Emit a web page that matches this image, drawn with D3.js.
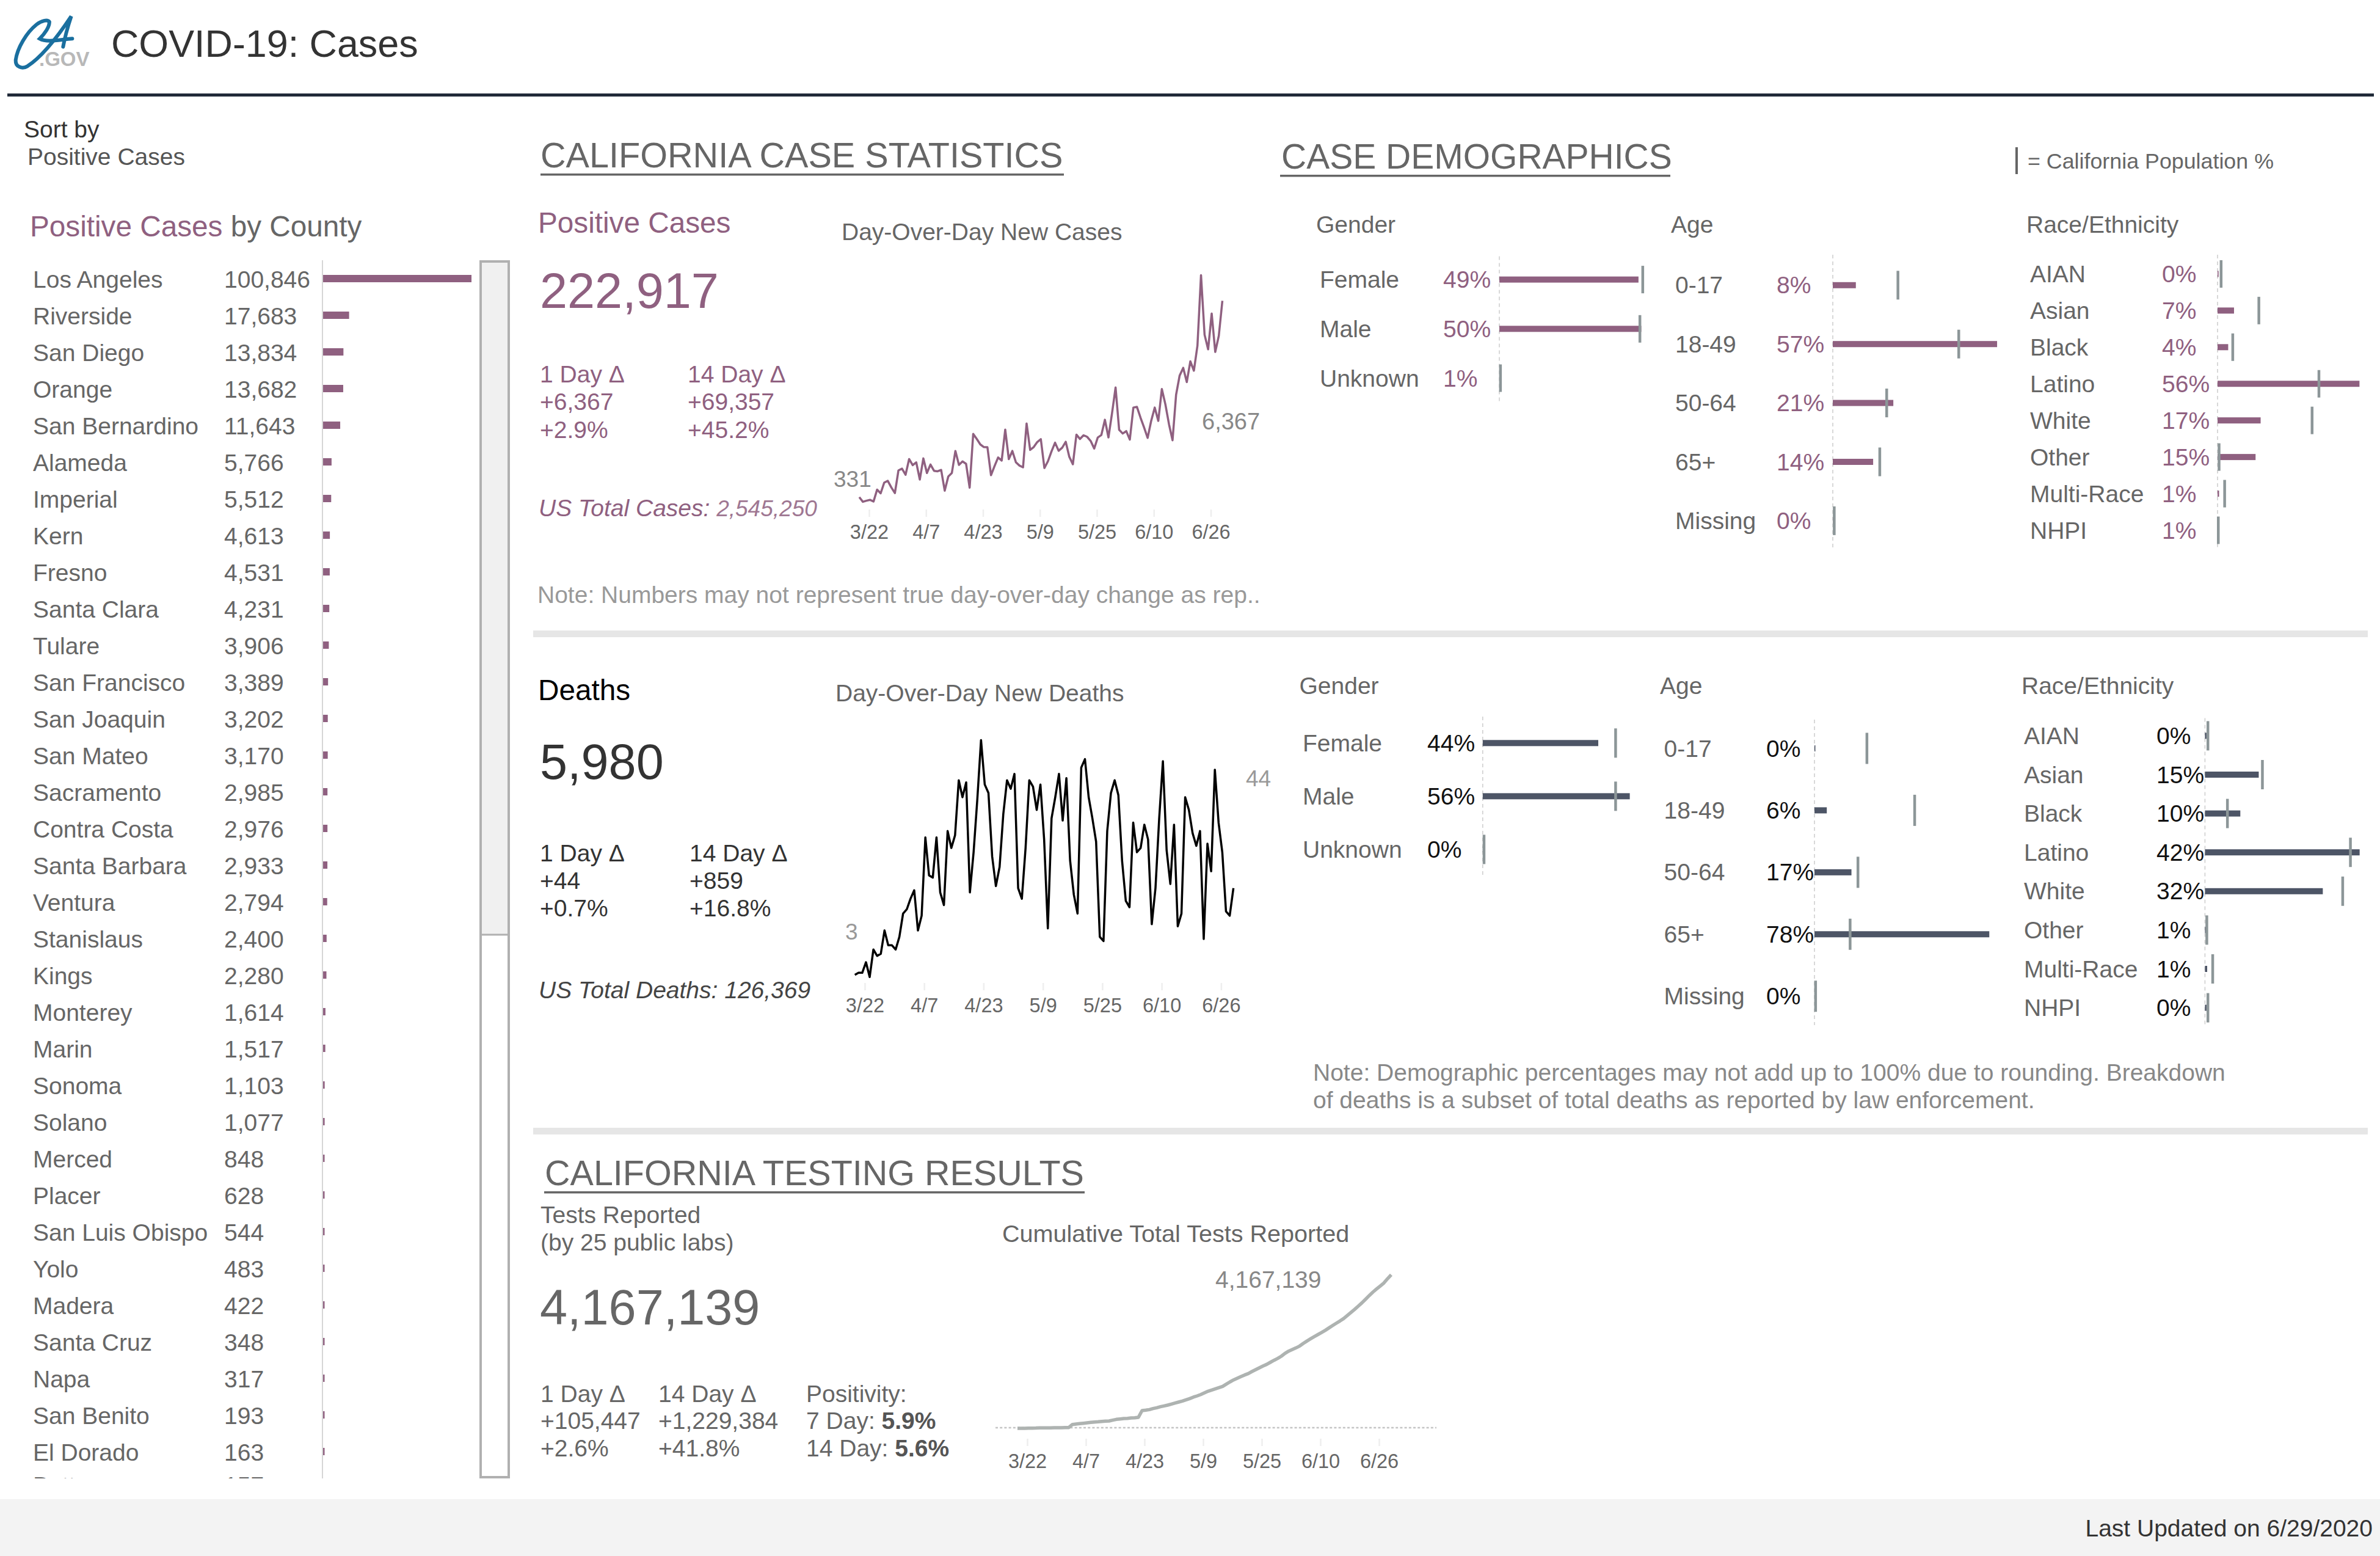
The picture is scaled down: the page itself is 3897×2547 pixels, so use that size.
<!DOCTYPE html>
<html>
<head>
<meta charset="utf-8">
<title>COVID-19: Cases</title>
<script src="https://cdn.jsdelivr.net/npm/d3@7"></script>
<style>
  html, body { margin: 0; padding: 0; background: #fff; }
  svg { display: block; font-family: "Liberation Sans", Arial, sans-serif; }
</style>
</head>
<body>
<svg id="chart" width="3897" height="2547"></svg>
<script>
// data
const countyNames = ["Los Angeles", "Riverside", "San Diego", "Orange", "San Bernardino", "Alameda", "Imperial", "Kern", "Fresno", "Santa Clara", "Tulare", "San Francisco", "San Joaquin", "San Mateo", "Sacramento", "Contra Costa", "Santa Barbara", "Ventura", "Stanislaus", "Kings", "Monterey", "Marin", "Sonoma", "Solano", "Merced", "Placer", "San Luis Obispo", "Yolo", "Madera", "Santa Cruz", "Napa", "San Benito", "El Dorado", "Butte"];
const countyCases = [100846, 17683, 13834, 13682, 11643, 5766, 5512, 4613, 4531, 4231, 3906, 3389, 3202, 3170, 2985, 2976, 2933, 2794, 2400, 2280, 1614, 1517, 1103, 1077, 848, 628, 544, 483, 422, 348, 317, 193, 163, 157];

const tickDays = ["2020-03-22", "2020-04-07", "2020-04-23", "2020-05-09", "2020-05-25", "2020-06-10", "2020-06-26"];

const newCases = [331, 188, 221, 248, 195, 563, 449, 778, 832, 630, 456, 1154, 1207, 1019, 1502, 1315, 1402, 872, 1522, 1073, 1335, 1140, 1127, 1167, 530, 966, 1073, 1751, 1321, 1429, 1355, 624, 2274, 2119, 1952, 1871, 1865, 1006, 1288, 1549, 1455, 2408, 1502, 1751, 1402, 1301, 1248, 2596, 1784, 1871, 2026, 2113, 1227, 1435, 1737, 2005, 1757, 1851, 2032, 1569, 1341, 2254, 2119, 2233, 2186, 2059, 1824, 2166, 2240, 2710, 2166, 2911, 3702, 2401, 2287, 2361, 2099, 3085, 3105, 2777, 2475, 2153, 2676, 3085, 2676, 3655, 3179, 2575, 2079, 3481, 4071, 4306, 3870, 4507, 4219, 4990, 7156, 5325, 4876, 5976, 4796, 5292, 6367];

const newDeaths = [3, 4, 4, 9, 2, 15, 12, 13, 24, 17, 17, 15, 21, 32, 34, 39, 43, 24, 31, 68, 50, 49, 68, 42, 36, 71, 63, 69, 95, 87, 94, 42, 61, 86, 114, 93, 89, 59, 45, 54, 79, 95, 91, 98, 44, 39, 63, 95, 92, 81, 93, 67, 25, 77, 87, 98, 76, 96, 57, 41, 32, 101, 105, 87, 77, 66, 21, 19, 71, 89, 95, 88, 57, 38, 35, 75, 61, 63, 74, 67, 27, 44, 77, 104, 62, 46, 74, 26, 32, 87, 81, 70, 64, 71, 20, 65, 52, 100, 75, 61, 33, 31, 44];

const totalTests = [1000, 1500, 2000, 5500, 6000, 6500, 11000, 11500, 12000, 12500, 16500, 17000, 17500, 22000, 22500, 105000, 116000, 127000, 138000, 149000, 160000, 171000, 177000, 188000, 193000, 199000, 221000, 243000, 254000, 265000, 271000, 282000, 287000, 298000, 481000, 492000, 508000, 536000, 558000, 586000, 608000, 630000, 658000, 685000, 713000, 741000, 774000, 807000, 846000, 879000, 917000, 962000, 1006000, 1039000, 1072000, 1105000, 1139000, 1199000, 1260000, 1315000, 1360000, 1404000, 1448000, 1487000, 1542000, 1592000, 1642000, 1691000, 1735000, 1791000, 1846000, 1896000, 1957000, 2034000, 2095000, 2139000, 2183000, 2233000, 2305000, 2370000, 2430000, 2490000, 2545000, 2600000, 2660000, 2725000, 2790000, 2852000, 2913000, 2979000, 3062000, 3145000, 3228000, 3316000, 3405000, 3504000, 3604000, 3698000, 3781000, 3863000, 3946000, 4061692, 4167139];

const genderLabels = ["Female", "Male", "Unknown"];
const ageLabels = ["0-17", "18-49", "50-64", "65+", "Missing"];
const raceLabels = ["AIAN", "Asian", "Black", "Latino", "White", "Other", "Multi-Race", "NHPI"];

const caseGender = [49, 50, 0.6];
const caseGenderPop = [50.5, 49.5, 0.4];
const caseAge = [8, 57, 21, 14, 0.2];
const caseAgePop = [22.6, 43.7, 18.7, 16.3, 0.5];
const caseRace = [0.4, 6.5, 4.2, 56, 17, 15, 0.6, 0.5];
const caseRacePop = [1.4, 16.3, 6, 40, 37.3, 0.6, 2.8, 0.3];

const deathGender = [44, 56, 0.2];
const deathGenderPop = [50.6, 50.6, 0.5];
const deathAge = [0.4, 5.5, 16.5, 78, 0.2];
const deathAgePop = [23.4, 44.7, 19.4, 15.9, 0.5];
const deathRace = [0.4, 14.6, 9.6, 42, 32, 0.5, 0.6, 0.4];
const deathRacePop = [0.8, 15.6, 6.1, 39.5, 37.4, 0.5, 2.1, 0.8];

const purple = "#8f6080";
const slate = "#4d5566";
const popGrey = "#8c9698";
const textGrey = "#666";
const bodySize = 39;

const svg = d3.select("#chart");
const days = d3.utcDay.range(Date.UTC(2020, 2, 19), Date.UTC(2020, 5, 30));

function label(x, y, str, size, fill, style) {
  return svg
    .append("text")
    .attr("x", x)
    .attr("y", y)
    .attr("font-size", size)
    .attr("fill", fill)
    .attr("font-style", style || null)
    .text(str);
}

function rect(x, y, w, h, fill) {
  return svg.append("rect").attr("x", x).attr("y", y).attr("width", w).attr("height", h).attr("fill", fill);
}

function sectionHeader(x, y, str, size, lineX0, lineX1) {
  label(x, y, str, size, textGrey);
  rect(lineX0, y + 10, lineX1 - lineX0, 3.5, textGrey);
}

function statBlock(x, ys, lines, fill) {
  lines.forEach((s, i) => label(x, ys[i], s, bodySize, fill));
}

// header + footer
rect(0, 2454, 3897, 93, "#f3f3f3");
rect(12, 153, 3875, 5, "#202a38");
label(182, 93, "COVID-19: Cases", 62.8, "#333");
label(3885, 2515, "Last Updated on 6/29/2020", bodySize, "#333").attr("text-anchor", "end");

const logo = svg.append("g").attr("transform", "translate(10,15) scale(0.3333)").attr("fill", "none").attr("stroke", "#1a6f9f").attr("stroke-width", 18).attr("stroke-linecap", "round");
logo.append("path").attr("d", "M212 62 C205 50 175 55 150 75 C100 115 55 190 47 250 C45 285 80 295 105 280 C160 245 230 170 320 35 C305 80 290 130 280 185");
logo.append("path").attr("d", "M212 62 C215 85 190 120 165 145 C200 165 260 150 325 145");
label(64, 108, ".GOV", 33, "#b8b8b8").attr("font-weight", "bold");

// county list
label(39, 225, "Sort by", bodySize, "#333");
label(45, 270, "Positive Cases", bodySize, "#555");
const countyTitle = label(49, 387, "Positive Cases", 47.7, purple);
countyTitle.append("tspan").attr("fill", textGrey).text(" by County");

svg.append("clipPath").attr("id", "county-clip").append("rect").attr("x", 0).attr("y", 420).attr("width", 780).attr("height", 2000);

const countyY = d3
  .scalePoint()
  .domain(countyNames)
  .range([456, 456 + 60 * (countyNames.length - 1)]);
const countyX = d3
  .scaleLinear()
  .domain([0, d3.max(countyCases)])
  .range([529, 772]);

const countyRows = svg
  .append("g")
  .attr("clip-path", "url(#county-clip)")
  .selectAll("g")
  .data(countyNames)
  .join("g")
  // the last row sits a little higher in the scrolling list
  .attr("transform", (d) => `translate(0,${countyY(d) - (d === "Butte" ? 6 : 0)})`);

countyRows
  .append("text")
  .attr("x", 54)
  .attr("y", 15)
  .attr("font-size", bodySize)
  .attr("fill", textGrey)
  .text((d) => d);
countyRows
  .append("text")
  .attr("x", 367)
  .attr("y", 15)
  .attr("font-size", bodySize)
  .attr("fill", textGrey)
  .text((d, i) => d3.format(",")(countyCases[i]));
countyRows
  .append("rect")
  .attr("x", countyX(0))
  .attr("y", -6)
  .attr("height", 12)
  .attr("width", (d, i) => Math.max(2.5, countyX(countyCases[i]) - countyX(0)))
  .attr("fill", purple);

svg.append("line").attr("x1", 528).attr("x2", 528).attr("y1", 426).attr("y2", 2420).attr("stroke", "#c8c8c8").attr("stroke-width", 1.5);
rect(787, 428, 46, 1102, "#f0f0f0");
svg.append("line").attr("x1", 785).attr("x2", 835).attr("y1", 1530).attr("y2", 1530).attr("stroke", "#b0b0b0").attr("stroke-width", 3);
svg.append("rect").attr("x", 787).attr("y", 428).attr("width", 46).attr("height", 1990).attr("fill", "none").attr("stroke", "#b0b0b0").attr("stroke-width", 4);

// separators
rect(873, 1032, 3004, 11, "#e6e6e6");
rect(873, 1846, 3004, 11, "#e6e6e6");

// headers of the sections
sectionHeader(885, 274, "CALIFORNIA CASE STATISTICS", 57.6, 885, 1742);
sectionHeader(2098, 276, "CASE DEMOGRAPHICS", 57, 2096, 2735);
sectionHeader(892, 1940, "CALIFORNIA TESTING RESULTS", 57.5, 891, 1776);

svg.append("line").attr("x1", 3302).attr("x2", 3302).attr("y1", 241).attr("y2", 285).attr("stroke", textGrey).attr("stroke-width", 4);
label(3320, 276, "= California Population %", 35.8, textGrey);

// big numbers
label(881, 381, "Positive Cases", 47.7, purple);
label(884, 504, "222,917", 81, purple);
statBlock(884, [626, 671, 717], ["1 Day Δ", "+6,367", "+2.9%"], purple);
statBlock(1126, [626, 671, 717], ["14 Day Δ", "+69,357", "+45.2%"], purple);
const usCases = label(882, 845, "US Total Cases: ", bodySize, purple, "italic");
usCases.append("tspan").attr("font-size", 37).attr("opacity", 0.85).text("2,545,250");
label(880, 987, "Note: Numbers may not represent true day-over-day change as rep..", bodySize, "#999");

label(881, 1146, "Deaths", 47.7, "#000");
label(884, 1275, "5,980", 81, "#333");
statBlock(884, [1410, 1455, 1500], ["1 Day Δ", "+44", "+0.7%"], "#333");
statBlock(1129, [1410, 1455, 1500], ["14 Day Δ", "+859", "+16.8%"], "#333");
label(882, 1634, "US Total Deaths: 126,369", bodySize, "#444", "italic");

label(885, 2002, "Tests Reported", bodySize, textGrey);
label(885, 2047, "(by 25 public labs)", bodySize, textGrey);
label(884, 2168, "4,167,139", 81, textGrey);
statBlock(885, [2295, 2339, 2384], ["1 Day Δ", "+105,447", "+2.6%"], textGrey);
statBlock(1078, [2295, 2339, 2384], ["14 Day Δ", "+1,229,384", "+41.8%"], textGrey);
label(1320, 2295, "Positivity:", bodySize, textGrey);
const pos7 = label(1320, 2339, "7 Day: ", bodySize, textGrey);
pos7.append("tspan").attr("font-weight", "bold").attr("fill", "#555").text("5.9%");
const pos14 = label(1320, 2384, "14 Day: ", bodySize, textGrey);
pos14.append("tspan").attr("font-weight", "bold").attr("fill", "#555").text("5.6%");

// the three small line charts
function lineChart(c) {
  const x = d3.scaleUtc().domain(d3.extent(days)).range(c.xRange);
  const y = d3.scaleLinear().domain([0, d3.max(c.values)]).range(c.yRange);

  const axis = d3
    .axisBottom(x)
    .tickValues(tickDays.map((d) => new Date(d + "T00:00:00Z")))
    .tickFormat(d3.utcFormat("%-m/%-d"))
    .tickSize(12)
    .tickPadding(13);

  const g = svg
    .append("g")
    .attr("transform", `translate(${c.tickShift},${c.axisY})`)
    .call(axis);
  g.select(".domain").remove();
  g.selectAll(".tick line").attr("stroke", "#eee").attr("stroke-width", 2.5);
  g.selectAll(".tick text").attr("font-size", 32.5).attr("fill", textGrey);
  g.attr("font-family", null);

  const line = d3
    .line()
    .x((d, i) => x(days[i]))
    .y((d) => y(d));

  svg
    .append("path")
    .datum(c.values)
    .attr("d", line)
    .attr("fill", "none")
    .attr("stroke", c.color)
    .attr("stroke-width", c.width)
    .attr("stroke-linejoin", "round");
}

label(1378, 393, "Day-Over-Day New Cases", bodySize, textGrey);
lineChart({ values: newCases, xRange: [1407, 2001.5], yRange: [831.4, 450.4], axisY: 834, tickShift: -1.5, color: purple, width: 3.5 });
label(1365, 797, "331", 37, "#888");
label(1968, 703, "6,367", 38, "#888");

label(1368, 1148, "Day-Over-Day New Deaths", bodySize, textGrey);
lineChart({ values: newDeaths, xRange: [1399.7, 2019.6], yRange: [1606.2, 1606.2 - 3.463 * 114], axisY: 1609, tickShift: -2, color: "#000", width: 3.5 });
label(1384, 1538, "3", 37, "#999");
label(2040, 1287, "44", 37, "#999");

label(1641, 2033, "Cumulative Total Tests Reported", 39.6, textGrey);
svg.append("line").attr("x1", 1630).attr("x2", 2352).attr("y1", 2337).attr("y2", 2337).attr("stroke", "#c4c4c4").attr("stroke-width", 2.5).attr("stroke-dasharray", "4 3.2");
lineChart({ values: totalTests, xRange: [1666, 2278], yRange: [2338, 2086.7], axisY: 2355, tickShift: -2, color: "#aeb3b1", width: 5.5 });
label(1990, 2108, "4,167,139", 39, "#888");

// demographic bars
function demographics(c) {
  label(c.titleX, c.titleY, c.title, bodySize, textGrey);

  const y = d3.scalePoint().domain(c.labels).range(c.rows);
  const x = d3
    .scaleLinear()
    .domain([0, 100])
    .range([c.axisX, c.axisX + c.perPct * 100]);

  svg
    .append("line")
    .attr("x1", c.axisX)
    .attr("x2", c.axisX)
    .attr("y1", c.axisY[0])
    .attr("y2", c.axisY[1])
    .attr("stroke", "#ccc")
    .attr("stroke-width", 1.5)
    .attr("stroke-dasharray", "6 5");

  const rows = svg
    .append("g")
    .selectAll("g")
    .data(c.labels)
    .join("g")
    .attr("transform", (d) => `translate(0,${y(d)})`);

  rows
    .append("text")
    .attr("x", c.labelX)
    .attr("y", 13.5)
    .attr("font-size", bodySize)
    .attr("fill", textGrey)
    .text((d) => d);

  rows
    .append("text")
    .attr("x", c.pctX)
    .attr("y", 13.5)
    .attr("font-size", bodySize)
    .attr("fill", c.pctColor)
    .text((d, i) => `${Math.round(c.values[i])}%`);

  rows
    .append("rect")
    .attr("x", x(0))
    .attr("y", -5)
    .attr("height", 10)
    .attr("width", (d, i) => x(c.values[i]) - x(0))
    .attr("fill", c.color);

  rows
    .append("line")
    .attr("x1", (d, i) => x(c.pop[i]))
    .attr("x2", (d, i) => x(c.pop[i]))
    .attr("y1", -c.tickH / 2)
    .attr("y2", c.tickH / 2)
    .attr("stroke", popGrey)
    .attr("stroke-width", 4.5);
}

demographics({ title: "Gender", titleX: 2155, titleY: 381, labels: genderLabels, values: caseGender, pop: caseGenderPop, rows: [457.6, 619], axisX: 2455, axisY: [419.5, 659], labelX: 2161, pctX: 2363, perPct: 4.65, tickH: 45, color: purple, pctColor: purple });
demographics({ title: "Age", titleX: 2736, titleY: 381, labels: ageLabels, values: caseAge, pop: caseAgePop, rows: [466.8, 852.4], axisX: 3001, axisY: [417, 899], labelX: 2743, pctX: 2909, perPct: 4.72, tickH: 47, color: purple, pctColor: purple });
demographics({ title: "Race/Ethnicity", titleX: 3318, titleY: 381, labels: raceLabels, values: caseRace, pop: caseRacePop, rows: [448.4, 868], axisX: 3631, axisY: [417, 895.6], labelX: 3324, pctX: 3540, perPct: 4.15, tickH: 45, color: purple, pctColor: purple });

demographics({ title: "Gender", titleX: 2127.5, titleY: 1136, labels: genderLabels, values: deathGender, pop: deathGenderPop, rows: [1216.3, 1390.4], axisX: 2427.8, axisY: [1173, 1433], labelX: 2133, pctX: 2337, perPct: 4.3, tickH: 48, color: slate, pctColor: "#111" });
demographics({ title: "Age", titleX: 2718, titleY: 1136, labels: ageLabels, values: deathAge, pop: deathAgePop, rows: [1225, 1630.7], axisX: 2971, axisY: [1178, 1678], labelX: 2724.6, pctX: 2892, perPct: 3.67, tickH: 51, color: slate, pctColor: "#111" });
demographics({ title: "Race/Ethnicity", titleX: 3310, titleY: 1136, labels: raceLabels, values: deathRace, pop: deathRacePop, rows: [1204.4, 1649.6], axisX: 3610.4, axisY: [1175.5, 1678], labelX: 3314, pctX: 3531, perPct: 6.03, tickH: 48, color: slate, pctColor: "#111" });

label(2150, 1769, "Note: Demographic percentages may not add up to 100% due to rounding. Breakdown", bodySize, "#888");
label(2150, 1814, "of deaths is a subset of total deaths as reported by law enforcement.", bodySize, "#888");
</script>
</body>
</html>
